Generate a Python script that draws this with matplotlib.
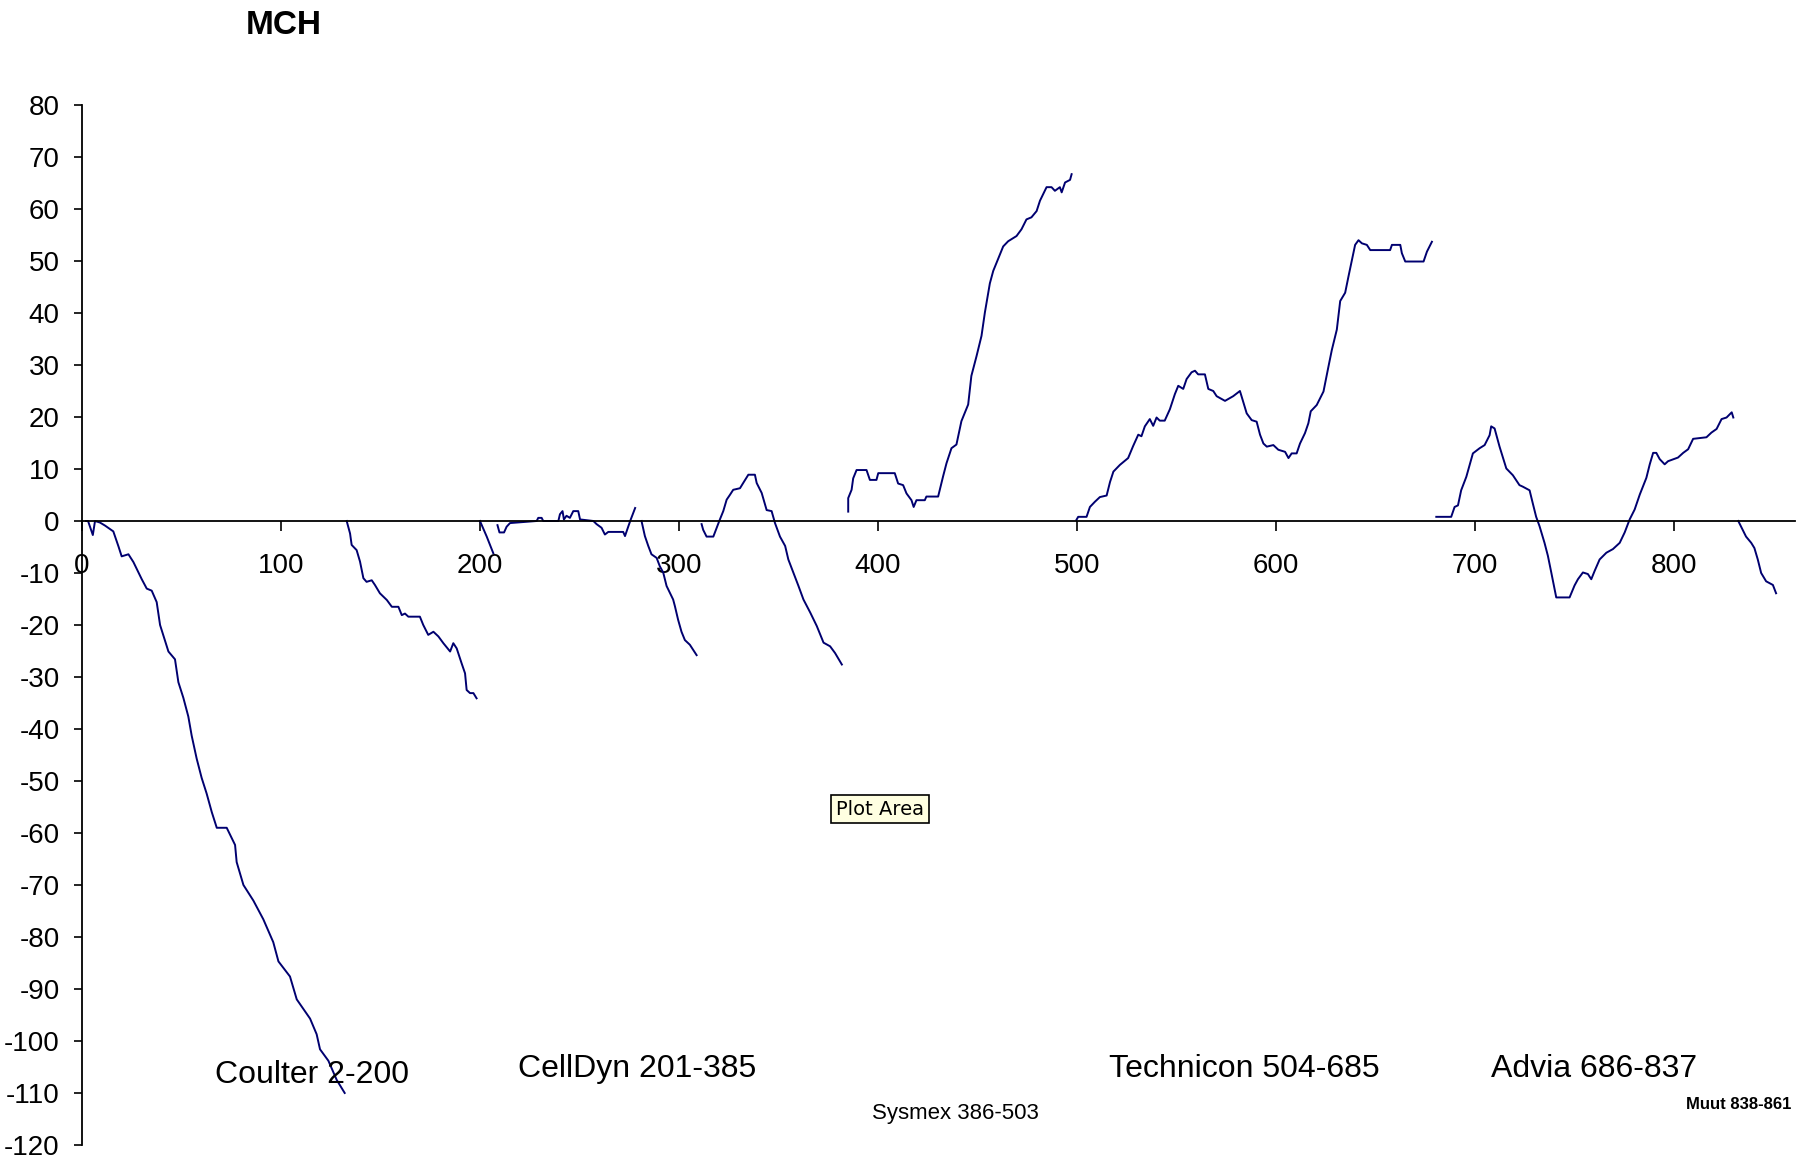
import matplotlib
matplotlib.use("Agg")
import matplotlib.pyplot as plt

# cumulative deviation runs (gaps between runs)
run1_x = [2, 3, 5.4, 6.5, 9, 11.6, 15.7, 18.3, 19.9, 23.3, 25.8, 30, 32.5, 35, 37.5, 39.2,
          43.4, 46.7, 48.4, 50.9, 53.4, 55.1, 57.6, 60.1, 62.6, 65.2, 67.7, 72.7, 76.9,
          77.7, 81.1, 86.1, 91.1, 96.1, 98.7, 104.5, 107.9, 114.6, 117.9, 119.6, 123.8,
          128, 132]
run1_y = [0, 0, -2.7, 0, -0.3, -0.9, -2, -4.9, -6.8, -6.4, -7.9, -11.2, -13, -13.4, -15.6,
          -20, -25.1, -26.6, -31, -34, -37.6, -41.3, -45.7, -49.4, -52.4, -56, -59, -59,
          -62.3, -65.6, -70, -73, -76.6, -81, -84.7, -87.6, -92, -95.7, -98.7, -101.6,
          -103.8, -107.5, -110]

run2_x = [133, 134.7, 135.5, 138, 139.7, 141.4, 143, 145.6, 147.2, 149.7, 153.2, 155.7,
          159, 160.7, 162.3, 164, 169.8, 171.5, 174, 176.6, 179.1, 181.6, 185, 186.6,
          188.3, 190.8, 192.5, 193.3, 195, 196.7, 198.3]
run2_y = [0, -2.4, -4.6, -5.6, -7.8, -11, -11.7, -11.4, -12.3, -13.9, -15.2, -16.5, -16.5,
          -18.1, -17.8, -18.4, -18.4, -20, -21.9, -21.3, -22.2, -23.5, -25.1, -23.5, -24.5,
          -27.4, -29.3, -32.5, -33.1, -33.1, -34.1]

run3_x = [200, 203.4, 206.7]
run3_y = [0, -3, -6.2]

run4_x = [208.8, 209.8, 212.1, 213.4, 215.1, 228.5, 229.3, 231, 231.8, 239.4, 240.2, 241.5,
          242.2, 243.5, 245.2, 246.9, 249.4, 250.3, 257, 258.6, 261.1, 262.8, 264.5, 272,
          272.9, 274.6, 275.8, 278]
run4_y = [-0.8, -2.2, -2.2, -1.1, -0.4, 0, 0.6, 0.6, 0, 0, 1.3, 1.9, 0.3, 1, 0.6, 1.9, 1.9,
          0.3, 0, -0.6, -1.3, -2.6, -2.1, -2.1, -2.9, -1, 0.3, 2.5]

run5_x = [281.2, 282.9, 284.6, 286.2, 288.8, 290.4, 292.1, 293.8, 297.1, 298, 299.6, 301.3,
          303, 305.5, 307.2, 308.9]
run5_y = [0, -2.9, -4.8, -6.4, -7.1, -8.7, -9.9, -12.5, -15.1, -16.4, -19, -21.3, -22.9,
          -23.8, -24.8, -25.8]

run6_x = [311.4, 312.2, 313.9, 317.3, 318.9, 320.6, 322.3, 324, 325.6, 327.3, 330.7, 332.3,
          334.9, 338.2, 339.1, 341.6, 344.1, 346.6, 348.3, 350.8, 353.4, 355, 357.5, 360.1,
          362.6, 366, 369.3, 372.7, 376, 378.5, 381.9]
run6_y = [-0.6, -1.7, -3, -3, -1.4, 0.3, 1.9, 4.1, 5, 6, 6.3, 7.3, 8.9, 8.9, 7.3, 5.4, 2.1,
          1.9, -0.4, -3, -4.8, -7.4, -9.9, -12.5, -15.1, -17.6, -20.2, -23.4, -24.1, -25.4,
          -27.6]

run7_x = [385.1, 385.1, 386.8, 387.6, 389.3, 394.3, 396, 399.3, 400.2, 408.5, 410.2, 412.7,
          414.4, 416.9, 418, 419.4, 423.6, 424.4, 430.3, 432.8, 434.5, 437, 439.5, 442,
          445.4, 447, 449.6, 452.1, 453.8, 456.3, 458, 459.6, 463, 465.5, 469.7, 472.2,
          474.7, 477.2, 479.8, 481.5, 484.8, 487.3, 489, 491.5, 492.4, 494.1, 496.6, 497.4]
run7_y = [1.8, 4.4, 6, 8.2, 9.8, 9.8, 7.9, 7.9, 9.2, 9.2, 7.2, 6.9, 5.3, 4, 2.7, 4, 4, 4.7,
          4.7, 8.6, 11.1, 14, 14.7, 19.2, 22.4, 27.9, 31.7, 35.6, 40.1, 45.7, 48.1, 49.6,
          52.8, 53.8, 54.8, 56.1, 58, 58.4, 59.6, 61.6, 64.2, 64.2, 63.5, 64.2, 63.2, 65.1,
          65.6, 66.7]

run8_x = [499.8, 500.7, 504.9, 506.6, 509.1, 511.6, 515, 516.7, 518.4, 521.7, 525.8, 528.3,
          530.9, 532.5, 534.2, 536.7, 538.4, 540.1, 541.7, 544.2, 546.8, 549.3, 551, 553.5,
          555.2, 557.7, 559.4, 561, 564.4, 566.1, 568.6, 570.3, 574.5, 578.6, 582, 582.8,
          585.4, 587.9, 590.4, 592.1, 593.8, 595.5, 598.8, 601.3, 604.7, 606.4, 608, 610.5,
          612.2, 614.7, 616.4, 617.6, 620.6, 624, 626.5, 628.2, 630.7, 632.4, 634.9, 636.6,
          638.3, 639.9, 641.6, 643.3, 645.8, 647.5, 657.5, 658.4, 662.6, 663.4, 665.1,
          674.3, 676, 678.5]
run8_y = [0.2, 0.8, 0.8, 2.7, 3.7, 4.6, 4.9, 7.5, 9.5, 10.8, 12.1, 14.4, 16.6, 16.3, 18.2,
          19.6, 18.3, 19.9, 19.3, 19.3, 21.5, 24.4, 26, 25.4, 27.3, 28.6, 28.9, 28.2, 28.2,
          25.4, 25, 24, 23.1, 24, 25, 24, 20.7, 19.4, 19.1, 16.6, 14.9, 14.3, 14.6, 13.7,
          13.3, 12.1, 13, 13, 14.9, 16.9, 18.8, 21.1, 22.3, 24.9, 29.7, 32.9, 36.8, 42.3,
          43.9, 47.1, 50.2, 53.1, 54, 53.4, 53.1, 52.1, 52.1, 53.1, 53.1, 51.5, 49.9, 49.9,
          51.8, 53.7]

run9_x = [680.7, 688.2, 689.9, 691.6, 693.2, 695.8, 699.1, 702.5, 705, 707.5, 708.3, 710,
          712.5, 715.9, 719.2, 722.5, 724.2, 727.6, 729.2, 730.9, 732.6, 735.1, 736.8, 738.5,
          741, 747.7, 750.2, 751.9, 754.4, 756.9, 758.6, 760.3, 762.8, 766.2, 769.5, 772.9,
          775.4, 777.9, 780.4, 783, 786.3, 788, 789.7, 791.3, 793, 795.5, 797.2, 802.2,
          804.8, 807.3, 809.8, 816.5, 819, 821.6, 824.1, 826.6, 829.2, 830]
run9_y = [0.8, 0.8, 2.7, 3, 5.9, 8.5, 13, 14, 14.6, 16.5, 18.2, 17.8, 14.3, 10.1, 8.8, 6.9,
          6.6, 5.9, 3.4, 0.8, -1, -4.2, -6.7, -9.9, -14.7, -14.7, -12.4, -11.2, -9.9, -10.2,
          -11.2, -9.6, -7.4, -6.1, -5.4, -4.2, -2.2, 0.3, 2.2, 5.1, 8.3, 10.9, 13.1, 13.1,
          11.9, 10.9, 11.5, 12.2, 13.1, 13.8, 15.8, 16.1, 17, 17.7, 19.6, 19.9, 20.9, 19.9]

run10_x = [832.5, 836.4, 839, 840.6, 842.3, 844, 846.5, 849.9, 851.5]
run10_y = [0, -3, -4.2, -5.2, -7.4, -10, -11.6, -12.3, -13.9]

runs = [(run1_x, run1_y), (run2_x, run2_y), (run3_x, run3_y), (run4_x, run4_y),
        (run5_x, run5_y), (run6_x, run6_y), (run7_x, run7_y), (run8_x, run8_y),
        (run9_x, run9_y), (run10_x, run10_y)]

# instrument labels: (text, x, y, size, weight)
labels = [
    ('Coulter 2-200', 115.5, -106.6, 23, 'normal'),
    ('CellDyn 201-385', 279, -105.3, 23, 'normal'),
    ('Sysmex 386-503', 439, -113.9, 16, 'normal'),
    ('Technicon 504-685', 584, -105.3, 23, 'normal'),
    ('Advia 686-837', 760, -105.3, 23, 'normal'),
    ('Muut 838-861', 832.5, -112.3, 12, 'bold'),
]

xticks = [0, 100, 200, 300, 400, 500, 600, 700, 800]
yticks = list(range(-120, 81, 10))

plt.rcParams['font.family'] = ['Liberation Sans', 'DejaVu Sans']
plt.rcParams['axes.unicode_minus'] = False

fig = plt.figure(figsize=(18.04, 11.59), dpi=100)
ax = fig.add_axes([0.0455, 0.0121, 0.9495, 0.8973])

for xs, ys in runs:
    ax.plot(xs, ys, color='#000070', linewidth=1.4)

ax.set_xlim(0, 861)
ax.set_ylim(-120, 80)
ax.set_xticks(xticks)
ax.set_yticks(yticks)

ax.spines['top'].set_visible(False)
ax.spines['right'].set_visible(False)
ax.spines['bottom'].set_position(('data', 0))
ax.spines['bottom'].set_linewidth(1.3)
ax.spines['left'].set_linewidth(1.3)

ax.tick_params(axis='x', direction='out', length=7, width=1.2, pad=16, labelsize=20)
ax.tick_params(axis='y', direction='out', length=6, width=1.2, pad=10, labelsize=20)

for text, x, y, size, weight in labels:
    ax.text(x, y, text, ha='center', va='center', fontsize=size,
            fontweight=weight, clip_on=False)

# the "Plot Area" tooltip left in the screenshot
ax.text(401, -55.4, 'Plot Area', ha='center', va='center', fontsize=14,
        family='DejaVu Sans',
        bbox=dict(boxstyle='square,pad=0.25', facecolor='#ffffe1',
                  edgecolor='black', linewidth=1.2))

fig.text(0.1574, 0.9784, 'MCH', ha='center', va='center', fontsize=24,
         fontweight='bold')

fig.savefig('out.png', dpi=100)
